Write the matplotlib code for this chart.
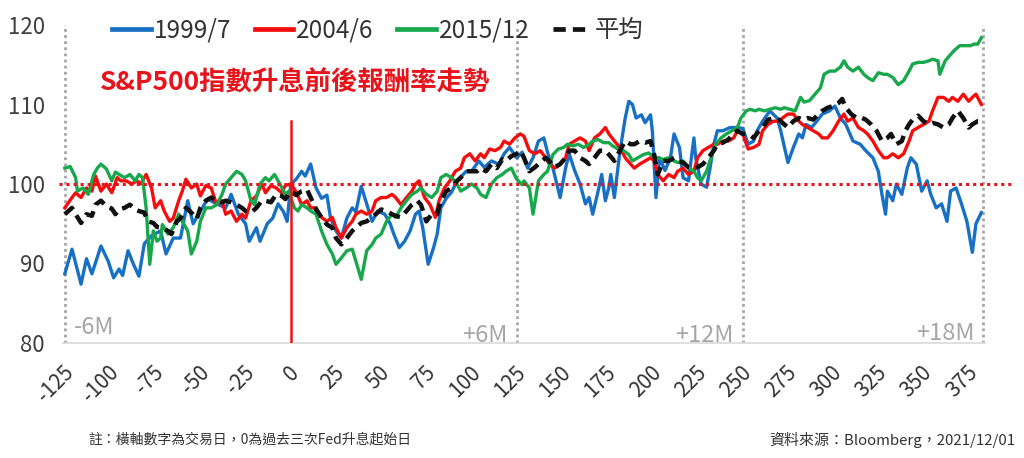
import numpy as np
import matplotlib
matplotlib.use('Agg')
import matplotlib.pyplot as plt
from matplotlib.transforms import ScaledTranslation

plt.rcParams['font.family'] = ['Noto Sans CJK TC', 'DejaVu Sans']
plt.rcParams['axes.unicode_minus'] = False

# trading days relative to the first Fed hike, index level (start = 100)
days_1999 = [-125, -121, -116, -113, -110, -105, -101, -98, -95, -93, -90, -87, -84, -81, -77, -72,
             -69, -65, -61, -57, -54, -50, -46, -41, -36, -33, -29, -25, -23, -19, -17, -13, -10,
             -7, -4, -2, 0, 3, 6, 8, 11, 14, 17, 20, 22, 25, 28, 31, 34, 36, 39, 42, 45, 48, 52,
             55, 57, 60, 63, 66, 69, 71, 73, 76, 79, 81, 83, 86, 89, 92, 97, 100, 104, 107, 111,
             115, 118, 121, 125, 128, 131, 134, 137, 140, 142, 145, 149, 152, 154, 157, 160, 163,
             165, 167, 170, 172, 174, 176, 177, 179, 182, 185, 187, 189, 191, 194, 196, 199, 200,
             202, 204, 207, 210, 212, 215, 217, 220, 223, 224, 227, 230, 232, 234, 236, 239, 243,
             247, 250, 253, 256, 258, 261, 265, 269, 271, 275, 278, 281, 283, 285, 288, 291, 294,
             298, 301, 304, 307, 311, 315, 318, 322, 325, 327, 329, 330, 333, 335, 338, 341, 343,
             346, 349, 352, 354, 357, 360, 363, 365, 368, 371, 374, 377, 379, 382]
vals_1999 = [88.7, 91.8, 87.4, 90.6, 88.7, 92.2, 90.3, 88.2, 89.3, 88.5, 91.6, 89.9, 88.4, 92.5,
             93.5, 94.1, 91.2, 93.2, 93.2, 97.9, 95.0, 96.6, 98.1, 97.5, 97.0, 98.7, 96.2, 95.0,
             92.8, 94.5, 92.8, 95.0, 95.7, 97.5, 96.5, 95.3, 100.0, 100.6, 101.6, 101.0, 102.5,
             99.5, 98.2, 98.6, 95.7, 94.1, 93.2, 95.7, 97.0, 96.5, 99.7, 97.5, 95.3, 96.6, 96.2,
             95.0, 93.7, 92.0, 92.8, 94.1, 96.2, 96.6, 94.5, 89.9, 92.0, 93.7, 97.0, 98.2, 99.0,
             100.4, 101.6, 101.6, 102.9, 102.1, 102.9, 102.5, 103.8, 104.6, 103.3, 104.0, 102.0,
             103.3, 105.4, 105.8, 104.0, 102.0, 98.3, 102.0, 103.8, 101.7, 100.0, 97.5, 98.3, 96.2,
             99.1, 101.2, 97.9, 99.6, 101.2, 98.3, 104.0, 108.3, 110.4, 110.0, 108.3, 108.7, 107.7,
             108.7, 106.7, 98.3, 103.3, 101.7, 103.3, 106.3, 104.6, 100.8, 100.4, 105.8, 103.3,
             100.0, 99.6, 102.1, 105.0, 106.7, 106.7, 107.1, 107.1, 107.0, 105.0, 105.4, 106.7,
             107.9, 109.2, 108.3, 106.7, 102.7, 104.6, 106.3, 105.8, 107.5, 107.1, 107.9, 108.8,
             109.2, 109.8, 108.3, 107.5, 105.4, 105.0, 104.2, 103.3, 101.6, 98.7, 96.2, 99.1, 97.9,
             100.0, 98.7, 102.0, 103.3, 102.5, 99.1, 100.4, 98.7, 97.0, 97.5, 95.3, 99.1, 99.5,
             97.5, 95.3, 91.4, 95.0, 96.4]

days_2004 = [-125, -121, -119, -116, -113, -110, -108, -105, -102, -99, -96, -94, -91, -88, -85,
             -83, -80, -77, -75, -72, -70, -67, -65, -62, -60, -58, -55, -52, -50, -47, -44, -41,
             -38, -36, -33, -30, -27, -25, -22, -19, -16, -14, -11, -8, -5, -3, 0, 3, 6, 9, 11,
             14, 17, 20, 23, 25, 28, 31, 34, 36, 39, 42, 45, 47, 50, 53, 56, 58, 61, 64, 67, 69,
             71, 74, 77, 80, 82, 85, 88, 91, 94, 96, 99, 102, 105, 107, 110, 113, 116, 118, 121,
             124, 127, 129, 132, 135, 138, 141, 143, 146, 149, 152, 154, 157, 160, 163, 165, 168,
             171, 174, 176, 179, 182, 185, 188, 190, 193, 196, 199, 201, 203, 206, 209, 212, 214,
             217, 220, 223, 225, 228, 231, 234, 236, 239, 242, 245, 247, 250, 253, 256, 259, 261,
             264, 267, 270, 272, 275, 278, 281, 283, 286, 289, 292, 294, 297, 300, 303, 306, 308,
             311, 314, 317, 319, 322, 325, 328, 330, 333, 336, 339, 342, 344, 347, 350, 353, 355,
             358, 361, 364, 366, 369, 372, 375, 377, 379, 382]
vals_2004 = [97.0, 98.3, 98.9, 98.3, 99.5, 99.1, 101.0, 99.1, 100.0, 98.9, 100.8, 100.4, 100.4,
             100.0, 100.4, 100.0, 101.2, 99.5, 97.0, 97.9, 96.6, 95.3, 95.7, 97.9, 99.1, 100.6,
             99.5, 100.0, 98.5, 99.8, 99.5, 97.4, 97.9, 96.2, 96.6, 95.3, 96.2, 95.7, 97.9, 98.5,
             100.0, 98.9, 99.8, 99.5, 98.9, 99.8, 100.0, 99.0, 97.4, 97.9, 97.0, 97.0, 95.8, 95.3,
             95.8, 94.5, 93.2, 94.5, 95.3, 96.2, 96.6, 96.2, 96.6, 97.9, 98.3, 98.3, 98.7, 98.3,
             97.4, 98.3, 99.1, 100.0, 100.4, 98.3, 97.4, 95.8, 97.9, 99.5, 100.4, 101.6, 102.0,
             103.3, 103.8, 102.9, 103.8, 103.3, 104.4, 104.2, 104.6, 105.4, 105.0, 105.8, 106.3,
             106.0, 104.2, 103.8, 104.2, 103.3, 102.5, 102.0, 102.5, 103.3, 105.0, 105.4, 105.8,
             105.4, 104.2, 105.8, 106.3, 107.1, 106.3, 105.4, 104.6, 103.3, 102.5, 102.0, 102.5,
             102.9, 103.3, 102.9, 101.2, 100.4, 101.2, 100.8, 101.6, 102.0, 101.2, 101.6, 103.3,
             104.2, 104.6, 105.0, 105.0, 105.4, 105.4, 105.8, 106.7, 106.3, 104.4, 104.6, 105.0,
             106.7, 107.5, 107.9, 107.9, 108.3, 108.8, 108.8, 107.9, 107.5, 107.1, 106.7, 106.3,
             105.8, 105.8, 106.7, 107.9, 108.8, 107.9, 108.3, 107.1, 106.7, 106.3, 105.4, 104.2,
             103.3, 103.3, 103.8, 103.3, 103.8, 105.4, 106.7, 107.1, 107.5, 107.9, 109.2, 110.9,
             110.9, 110.4, 110.9, 110.4, 111.3, 110.4, 110.9, 111.3, 110.0]

days_2015 = [-125, -122, -119, -118, -115, -112, -109, -107, -105, -102, -99, -97, -95, -92, -89,
             -86, -84, -82, -80, -78, -76, -74, -72, -71, -68, -65, -62, -60, -57, -55, -52, -50,
             -47, -44, -41, -38, -36, -33, -30, -27, -25, -22, -20, -17, -14, -12, -9, -6, -3, -1,
             0, 2, 4, 6, 9, 11, 14, 17, 20, 23, 25, 28, 31, 34, 36, 39, 42, 45, 47, 50, 53, 56,
             58, 61, 64, 67, 70, 72, 75, 78, 81, 83, 86, 89, 92, 94, 97, 100, 103, 105, 108, 111,
             114, 117, 119, 122, 125, 128, 129, 132, 134, 137, 140, 142, 145, 148, 151, 153, 156,
             159, 162, 165, 167, 170, 173, 176, 178, 181, 184, 187, 189, 192, 195, 198, 200, 203,
             206, 209, 212, 214, 217, 220, 223, 225, 227, 230, 233, 235, 238, 241, 244, 247, 249,
             252, 254, 257, 259, 262, 265, 268, 271, 273, 276, 279, 282, 284, 287, 290, 293, 295,
             298, 301, 304, 306, 308, 311, 314, 317, 319, 322, 325, 328, 330, 333, 336, 339, 342,
             344, 347, 350, 353, 355, 358, 359, 362, 365, 367, 370, 373, 376, 378, 380, 382]
vals_2015 = [102.0, 102.2, 100.8, 99.1, 99.5, 98.7, 101.2, 102.0, 102.5, 101.9, 100.4, 101.5,
             101.2, 100.8, 101.2, 100.4, 101.2, 100.8, 97.0, 89.9, 94.1, 92.8, 93.2, 94.9, 93.7,
             94.5, 96.2, 95.3, 94.1, 91.2, 92.8, 95.3, 97.0, 97.0, 97.4, 98.7, 100.0, 100.8, 101.6,
             101.2, 100.4, 97.9, 97.4, 100.0, 100.8, 100.4, 101.2, 100.0, 98.7, 99.1, 98.3, 97.0,
             96.6, 97.4, 97.0, 96.6, 96.2, 94.1, 92.4, 91.2, 89.9, 90.7, 91.6, 91.8, 90.3, 88.0,
             91.6, 92.4, 93.2, 93.7, 95.3, 96.2, 95.8, 97.0, 97.9, 98.7, 99.1, 99.5, 98.7, 98.3,
             99.1, 100.8, 101.2, 100.8, 100.0, 99.1, 99.5, 100.0, 99.5, 98.7, 98.3, 100.0, 100.8,
             101.2, 101.6, 102.0, 100.6, 99.9, 100.4, 99.5, 96.2, 100.4, 101.2, 101.6, 103.7,
             104.4, 104.6, 105.0, 104.8, 105.0, 104.6, 105.0, 105.4, 105.6, 105.2, 105.2, 104.8,
             104.4, 104.2, 103.7, 102.9, 103.3, 103.7, 103.9, 103.5, 103.3, 103.1, 103.3, 102.9,
             102.7, 102.9, 102.0, 101.6, 100.8, 100.4, 101.6, 103.7, 105.0, 105.8, 106.3, 106.7,
             107.1, 108.3, 109.2, 109.4, 109.2, 109.4, 109.2, 109.4, 109.6, 109.4, 109.6, 109.4,
             109.2, 110.9, 110.3, 110.5, 111.3, 112.1, 113.8, 114.2, 114.2, 114.7, 115.5, 114.7,
             114.2, 114.7, 113.8, 113.4, 113.0, 114.0, 113.8, 113.8, 113.4, 112.5, 113.0, 114.2,
             115.1, 115.3, 115.3, 115.5, 115.7, 115.5, 113.8, 115.5, 116.3, 116.8, 117.4, 117.4,
             117.4, 117.6, 117.6, 118.4]

days_avg = [-125, -121, -119, -116, -113, -110, -108, -105, -102, -99, -97, -95, -92, -89, -86,
            -84, -81, -79, -76, -74, -71, -68, -66, -63, -61, -58, -55, -52, -50, -47, -44, -41,
            -38, -36, -33, -30, -27, -25, -22, -19, -16, -14, -11, -8, -5, -3, 0, 3, 6, 9, 11,
            14, 17, 20, 23, 25, 28, 31, 34, 36, 39, 42, 45, 47, 50, 53, 56, 58, 61, 64, 67, 70,
            72, 75, 78, 81, 83, 86, 89, 92, 94, 97, 100, 103, 105, 108, 111, 114, 117, 119, 122,
            125, 127, 129, 132, 135, 138, 141, 143, 146, 149, 152, 154, 157, 160, 163, 165, 168,
            171, 174, 176, 179, 182, 185, 188, 190, 193, 196, 199, 201, 203, 206, 209, 212, 214,
            217, 220, 223, 225, 228, 231, 234, 236, 239, 242, 245, 247, 250, 253, 256, 259, 261,
            264, 267, 270, 272, 275, 278, 281, 283, 286, 289, 292, 294, 297, 300, 303, 305, 307,
            310, 313, 316, 318, 321, 324, 327, 330, 332, 335, 338, 340, 342, 344, 347, 350, 353,
            355, 358, 361, 364, 366, 369, 372, 375, 377, 380, 382]
vals_avg = [96.2, 97.0, 96.2, 95.1, 96.2, 96.0, 97.4, 97.9, 97.2, 96.9, 96.2, 96.8, 97.0, 97.4,
            96.8, 96.6, 96.4, 95.3, 95.1, 94.6, 94.5, 94.1, 93.7, 95.3, 95.7, 97.0, 96.4, 95.6,
            97.0, 97.9, 98.3, 97.9, 97.7, 97.9, 97.7, 97.4, 97.0, 96.6, 96.4, 97.0, 97.9, 97.9,
            97.7, 98.7, 98.5, 98.1, 99.1, 98.6, 99.1, 99.3, 98.3, 96.8, 95.8, 94.9, 94.5, 93.2,
            92.4, 93.2, 94.1, 94.5, 95.1, 95.3, 95.8, 96.2, 96.8, 96.6, 96.2, 96.0, 95.8, 96.6,
            97.4, 97.9, 97.4, 95.3, 96.2, 96.2, 97.9, 99.1, 99.5, 100.4, 100.8, 101.6, 101.6,
            101.6, 102.0, 101.6, 102.5, 102.0, 103.1, 102.9, 103.5, 103.8, 104.2, 103.3, 101.6,
            102.1, 102.7, 103.3, 102.9, 102.1, 102.5, 103.3, 104.2, 104.2, 103.3, 102.9, 102.5,
            103.3, 104.2, 104.2, 103.7, 102.9, 104.2, 105.4, 105.0, 105.0, 105.4, 105.2, 105.4,
            103.7, 101.2, 102.9, 102.9, 103.3, 102.9, 102.7, 102.1, 102.1, 102.1, 102.5, 103.3,
            104.2, 105.0, 105.2, 105.6, 106.3, 106.7, 106.3, 106.3, 105.8, 106.7, 107.1, 108.1,
            108.3, 108.1, 107.7, 107.1, 107.9, 108.3, 108.1, 108.3, 108.1, 108.8, 109.2, 109.6,
            109.8, 110.2, 110.7, 109.6, 108.8, 108.3, 108.3, 108.1, 107.5, 106.7, 105.4, 105.8,
            106.3, 105.0, 105.4, 106.7, 107.5, 108.1, 108.6, 107.9, 107.5, 107.7, 107.5, 107.1,
            107.5, 108.3, 109.2, 108.3, 107.1, 107.5, 107.9, 107.9]

xticks = list(range(-125, 376, 25))
yticks = [80, 90, 100, 110, 120]
period_lines = [-125, 125, 250, 383]

fig = plt.figure(figsize=(10.24, 4.58), dpi=100)
ax = fig.add_axes([0.0615, 0.2511, 0.9004, 0.6943])

# period separators and reference lines
for d in period_lines:
    ax.plot([d, d], [80, 120], color='#a6a6a6', lw=2, ls=(0, (1, 1.2)), zorder=1)
ax.plot([-128, 399], [100, 100], color='#e8141b', lw=2.2, ls=(0, (1, 1.3)), zorder=5, clip_on=False)
ax.plot([0, 0], [80, 107.9], color='#e8141b', lw=1.8, zorder=6)

ax.plot(days_1999, vals_1999, color='#1870c4', lw=2.4, label='1999/7', zorder=3)
ax.plot(days_2004, vals_2004, color='#f50d0d', lw=2.4, label='2004/6', zorder=3)
ax.plot(days_2015, vals_2015, color='#17a84b', lw=2.4, label='2015/12', zorder=3)
ax.plot(days_avg, vals_avg, color='#111111', lw=3.2, ls=(0, (2.6, 1.5)), label='平均', zorder=4)

ax.set_xlim(-126, 384)
ax.set_ylim(80, 120)
ax.set_yticks(yticks)
ax.set_xticks(xticks)
ax.tick_params(axis='y', length=0, pad=13, labelsize=16, labelcolor='#404040')
ax.tick_params(axis='x', length=0, pad=19, labelsize=15, labelcolor='#333333')
for lab in ax.get_xticklabels():
    lab.set_rotation(45)
    lab.set_rotation_mode('anchor')
    lab.set_ha('right')
    lab.set_va('center')
    lab.set_transform(lab.get_transform() + ScaledTranslation(4 / 72, 0, fig.dpi_scale_trans))

for s in ['top', 'right', 'left']:
    ax.spines[s].set_visible(False)
ax.spines['bottom'].set_color('#d9d9d9')
ax.spines['bottom'].set_linewidth(1.2)

# period labels
lab_kw = dict(color='#a6a6a6', fontsize=17)
ax.text(-120, 82.0, '-6M', ha='left', va='center', **lab_kw)
ax.text(120, 81.0, '+6M', ha='right', va='center', **lab_kw)
ax.text(245, 81.0, '+12M', ha='right', va='center', **lab_kw)
ax.text(378, 81.2, '+18M', ha='right', va='center', **lab_kw)

leg = fig.legend(loc='center left', bbox_to_anchor=(0.093, 0.934), ncol=4, frameon=False,
                 fontsize=17.5, handlelength=1.6, handletextpad=0.12, columnspacing=0.95,
                 borderpad=0.2)
for h in leg.get_lines():
    h.set_linewidth(3.4)
for t in leg.get_texts():
    t.set_color('#333333')

fig.text(0.098, 0.819, 'S&P500指數升息前後報酬率走勢', color='#e8141b', fontsize=19,
         fontweight='bold', ha='left', va='center')

fig.text(88 / 1024, 1 - 440 / 458, '註：橫軸數字為交易日，0為過去三次Fed升息起始日',
         fontsize=10, color='#333333', ha='left', va='center')
fig.text(1015 / 1024, 1 - 440 / 458, '資料來源：Bloomberg，2021/12/01',
         fontsize=10.8, color='#333333', ha='right', va='center')

fig.savefig('out.png', dpi=100)
